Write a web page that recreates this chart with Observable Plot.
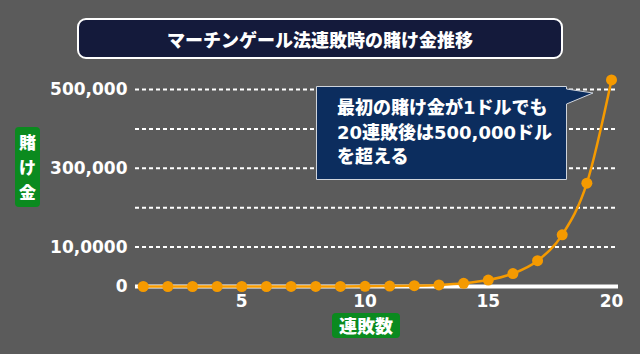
<!DOCTYPE html>
<html><head><meta charset="utf-8">
<script src="https://cdn.jsdelivr.net/npm/d3@7"></script>
<script src="https://cdn.jsdelivr.net/npm/@observablehq/plot@0.6"></script>
<style>
body{margin:0;background:#5b5b5b;}
#wrap{position:relative;width:640px;height:354px;overflow:hidden;font-family:"DejaVu Sans","Noto Sans CJK JP",sans-serif;font-weight:bold;color:#fff;}
#wrap svg{display:block;}
.title{position:absolute;left:77px;top:18px;width:486px;height:41px;box-sizing:border-box;border:2px solid #fff;border-radius:9px;background:#141a3b;font-size:18px;display:flex;align-items:center;justify-content:center;font-family:"Noto Sans CJK JP",sans-serif;font-weight:900;}
.ylab{position:absolute;left:15px;top:127px;width:25px;height:80px;background:#0b8a1f;border-radius:4px;font-size:17px;line-height:25px;text-align:center;font-family:"Noto Sans CJK JP",sans-serif;font-weight:900;padding-top:2px;box-sizing:border-box;}
.xlab{position:absolute;left:332px;top:313px;width:68px;height:25px;background:#0b8a1f;border-radius:4px;font-size:18px;line-height:25px;text-align:center;font-family:"Noto Sans CJK JP",sans-serif;font-weight:900;}
#note{position:absolute;left:0;top:0;}
</style>
</head><body>
<div id="wrap"></div>
<script>
const titleText = "マーチンゲール法連敗時の賭け金推移";
const yTitle = ["賭", "け", "金"];
const xTitle = "連敗数";
const noteLines = ["最初の賭け金が1ドルでも", "20連敗後は500,000ドル", "を超える"];
const losses = [1,2,3,4,5,6,7,8,9,10,11,12,13,14,15,16,17,18,19,20];
const bets = [1,2,4,8,16,32,64,128,256,512,1024,2048,4096,8192,16384,32768,65536,131072,262144,524288];
const yTicks = [0,100000,300000,500000];
const yTickLabels = ["0","10,0000","300,000","500,000"];
const gridValues = [100000,200000,300000,400000,500000];
const xTicks = [5,10,15,20];

const data = losses.map((n,i)=>({n, bet: bets[i]}));
const orange = "#f59a00";

const plot = Plot.plot({
  width: 640, height: 354,
  marginLeft: 135, marginRight: 22, marginTop: 89, marginBottom: 68,
  insetLeft: 7.7, insetRight: 7,
  x: {domain: [1,20]},
  y: {domain: [0,500000]},
  style: {background: "#5b5b5b", color: "#fff", fontSize: "17px", fontFamily: '"DejaVu Sans","Noto Sans CJK JP",sans-serif', fontWeight: "bold", overflow: "visible"},
  marks: [
    Plot.ruleY(gridValues, {stroke: "#fff", strokeWidth: 2, strokeDasharray: "4,3"}),
    Plot.ruleY([0], {stroke: "#fff", strokeWidth: 4}),
    Plot.axisY({ticks: yTicks, tickFormat: d => yTickLabels[yTicks.indexOf(d)], tickSize: 0, tickPadding: 8, label: null}),
    Plot.axisX({ticks: xTicks, tickSize: 0, tickPadding: 8, label: null}),
    Plot.line(data, {x: "n", y: "bet", stroke: orange, strokeWidth: 2.5, curve: "monotone-x"}),
    Plot.dot(data, {x: "n", y: "bet", r: 5.5, fill: orange})
  ]
});

const wrap = document.getElementById("wrap");
wrap.appendChild(plot);

const t = document.createElement("div"); t.className = "title"; t.textContent = titleText; wrap.appendChild(t);
const yl = document.createElement("div"); yl.className = "ylab"; yl.innerHTML = yTitle.join("<br>"); wrap.appendChild(yl);
const xl = document.createElement("div"); xl.className = "xlab"; xl.textContent = xTitle; wrap.appendChild(xl);

const ns = "http://www.w3.org/2000/svg";
const note = document.createElementNS(ns, "svg");
note.setAttribute("id", "note"); note.setAttribute("width", 640); note.setAttribute("height", 354);
const p = document.createElementNS(ns, "path");
p.setAttribute("d", "M316.5,86.5 H566.5 V89 L593,93 L566.5,104 V179.5 H316.5 Z");
p.setAttribute("fill", "#0c2d5e"); p.setAttribute("stroke", "#cfd4dc"); p.setAttribute("stroke-width", 1);
note.appendChild(p);
noteLines.forEach((s,i)=>{
  const tx = document.createElementNS(ns, "text");
  tx.setAttribute("x", 337); tx.setAttribute("y", 114 + i*24.5);
  tx.setAttribute("fill", "#fff"); tx.setAttribute("font-size", 18); tx.setAttribute("font-weight", "900");
  tx.setAttribute("font-family", '"DejaVu Sans","Noto Sans CJK JP",sans-serif');
  tx.textContent = s; note.appendChild(tx);
});
wrap.appendChild(note);
</script>
</body></html>
